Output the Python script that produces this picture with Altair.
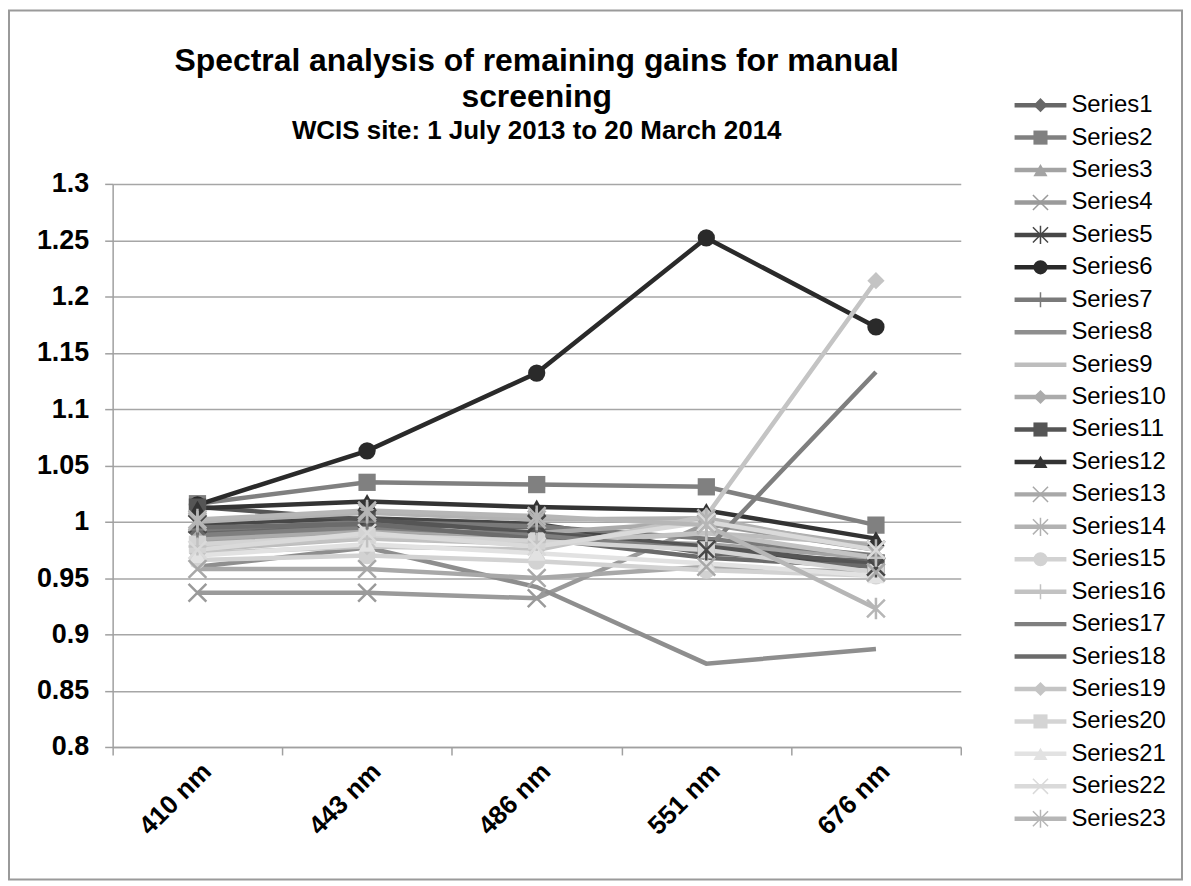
import altair as alt
import pandas as pd

# ---------------- data ----------------
wavelengths = ["410 nm", "443 nm", "486 nm", "551 nm", "676 nm"]
series_names = ["Series1", "Series2", "Series3", "Series4", "Series5", "Series6",
                "Series7", "Series8", "Series9", "Series10", "Series11", "Series12",
                "Series13", "Series14", "Series15", "Series16", "Series17", "Series18",
                "Series19", "Series20", "Series21", "Series22", "Series23"]

s1 = [0.990, 0.997, 0.995, 0.972, 0.965]
s2 = [1.016, 1.035, 1.033, 1.031, 0.997]
s3 = [0.982, 0.990, 0.985, 0.980, 0.968]
s4 = [0.937, 0.937, 0.932, 0.998, 0.975]
s5 = [0.998, 1.003, 0.998, 0.975, 0.960]
s6 = [1.015, 1.063, 1.132, 1.252, 1.173]
s7 = [0.993, 1.000, 0.996, 0.985, 0.970]
s8 = [0.960, 0.977, 0.942, 0.874, 0.887]
s9 = [0.975, 0.985, 0.980, 0.990, 0.980]
s10 = [0.985, 0.992, 0.990, 1.000, 0.978]
s11 = [1.013, 1.002, 0.990, 0.978, 0.962]
s12 = [1.012, 1.018, 1.013, 1.010, 0.985]
s13 = [0.958, 0.958, 0.950, 0.960, 0.955]
s14 = [1.000, 1.008, 1.002, 1.003, 0.975]
s15 = [0.966, 0.970, 0.965, 0.957, 0.952]
s16 = [0.978, 0.985, 0.982, 0.990, 0.968]
s17 = [0.988, 0.995, 0.988, 0.975, 1.133]
s18 = [0.995, 0.998, 0.985, 0.968, 0.960]
s19 = [0.972, 0.978, 0.975, 1.005, 1.214]
s20 = [0.980, 0.988, 0.983, 0.975, 0.955]
s21 = [0.970, 0.980, 0.972, 0.963, 0.952]
s22 = [0.975, 0.990, 0.978, 1.000, 0.975]
s23 = [1.002, 1.010, 1.005, 0.997, 0.923]

all_values = [s1, s2, s3, s4, s5, s6, s7, s8, s9, s10, s11, s12,
              s13, s14, s15, s16, s17, s18, s19, s20, s21, s22, s23]

series_colors = ["#676767", "#808080", "#a3a3a3", "#9a9a9a", "#474747", "#2a2a2a",
                 "#7a7a7a", "#8e8e8e", "#bdbdbd", "#ababab", "#555555", "#333333",
                 "#a8a8a8", "#b2b2b2", "#d2d2d2", "#c2c2c2", "#7f7f7f", "#6b6b6b",
                 "#c4c4c4", "#d4d4d4", "#e2e2e2", "#dadada", "#b6b6b6"]

series_markers = ["diamond", "square", "triangle", "x", "asterisk", "circle",
                  "plus", "none", "none", "diamond", "square", "triangle",
                  "x", "asterisk", "circle", "plus", "none", "none",
                  "diamond", "square", "triangle", "x", "asterisk"]

title_lines = ["Spectral analysis of remaining gains for manual", "screening"]
subtitle_text = "WCIS site: 1 July 2013 to 20 March 2014"
y_ticks = [0.8, 0.85, 0.9, 0.95, 1.0, 1.05, 1.1, 1.15, 1.2, 1.25, 1.3]

# ---------------- tables ----------------
shape_paths = {
    "diamond": "diamond",
    "square": "square",
    "triangle": "triangle-up",
    "circle": "circle",
    "x": "M-1,-1L1,1M-1,1L1,-1",
    "asterisk": "M-1,-1L1,1M-1,1L1,-1M0,-1.2L0,1.2",
    "plus": "M-1,0L1,0M0,-1L0,1",
    "none": "circle",
}
filled_kinds = {"diamond", "square", "triangle", "circle"}
stroked_kinds = {"x", "asterisk", "plus"}

rows = []
for name, vals, mk in zip(series_names, all_values, series_markers):
    for wl, v in zip(wavelengths, vals):
        rows.append({"series": name, "wl": wl, "value": v, "marker": mk})
df = pd.DataFrame(rows)
leg = pd.DataFrame({"series": series_names, "marker": series_markers})

FONT = "Liberation Sans"

color = alt.Color("series:N", scale=alt.Scale(domain=series_names, range=series_colors), legend=None)
shape = alt.Shape("series:N", scale=alt.Scale(domain=series_names,
                                               range=[shape_paths[m] for m in series_markers]),
                  legend=None)

x_enc = alt.X("wl:N", sort=wavelengths, title=None,
              scale=alt.Scale(type="band", paddingInner=0, paddingOuter=0),
              axis=alt.Axis(labelAngle=-45, labelFont=FONT, labelFontSize=26, labelFontWeight="bold",
                            labelColor="black", tickBand="extent", tickSize=8, tickColor="#a0a0a0",
                            tickWidth=1.5, domainColor="#a0a0a0", domainWidth=1.5,
                            labelPadding=3, grid=False))
y_enc = alt.Y("value:Q", title=None,
              scale=alt.Scale(domain=[0.8, 1.3], nice=False, zero=False),
              axis=alt.Axis(values=y_ticks, format=".3~g", labelFont=FONT, labelFontSize=27,
                            labelFontWeight="bold", labelColor="black", tickSize=8,
                            tickColor="#a0a0a0", tickWidth=1.5, domainColor="#a0a0a0",
                            domainWidth=1.5, gridColor="#a6a6a6", gridWidth=1.5,
                            labelPadding=16))

lines = alt.Chart(df).mark_line(strokeWidth=4.5).encode(x=x_enc, y=y_enc, color=color)
pts_filled = alt.Chart(df).transform_filter(
    alt.FieldOneOfPredicate(field="marker", oneOf=sorted(filled_kinds))
).mark_point(filled=True, opacity=1, size=300).encode(x=x_enc, y=y_enc, color=color, shape=shape)
pts_stroked = alt.Chart(df).transform_filter(
    alt.FieldOneOfPredicate(field="marker", oneOf=sorted(stroked_kinds))
).mark_point(filled=False, opacity=1, size=320, strokeWidth=2.5).encode(x=x_enc, y=y_enc, color=color, shape=shape)

main = alt.layer(lines, pts_filled, pts_stroked)

# ---------------- legend ----------------
ly = alt.Y("series:N", sort=series_names, axis=None,
           scale=alt.Scale(type="point", domain=series_names, range=[-79, 637], padding=0))
leg_rule = alt.Chart(leg).mark_rule(strokeWidth=4.5).encode(
    x=alt.value(905), x2=alt.value(957), y=ly, color=color)
leg_filled = alt.Chart(leg).transform_filter(
    alt.FieldOneOfPredicate(field="marker", oneOf=sorted(filled_kinds))
).mark_point(filled=True, opacity=1, size=200).encode(x=alt.value(931), y=ly, color=color, shape=shape)
leg_stroked = alt.Chart(leg).transform_filter(
    alt.FieldOneOfPredicate(field="marker", oneOf=sorted(stroked_kinds))
).mark_point(filled=False, opacity=1, size=230, strokeWidth=1.5).encode(x=alt.value(931), y=ly, color=color, shape=shape)
leg_text = alt.Chart(leg).mark_text(align="left", baseline="middle", font=FONT, fontSize=24,
                                    color="black").encode(x=alt.value(962), y=ly, text="series:N")
legend_layer = alt.layer(leg_rule, leg_filled, leg_stroked, leg_text)

border = alt.Chart(alt.Data(values=[{"a": 1}])).mark_rect(
    filled=False, stroke="#9a9a9a", strokeWidth=2).encode(
    x=alt.value(-104), x2=alt.value(1073), y=alt.value(-174), y2=alt.value(698))

chart = alt.layer(border, main, legend_layer).resolve_scale(y="independent").properties(
    width=851, height=565, padding=0,
    title=alt.TitleParams(text=title_lines, subtitle=subtitle_text, font=FONT, fontSize=32,
                          fontWeight="bold", color="black", lineHeight=36,
                          subtitleFont=FONT, subtitleFontSize=26, subtitleFontWeight="bold",
                          subtitleColor="black", subtitlePadding=4, anchor="middle",
                          frame="group", offset=-136)
).configure_view(stroke=None)

chart.save("out.html", embed_options={"renderer": "svg", "actions": False})
